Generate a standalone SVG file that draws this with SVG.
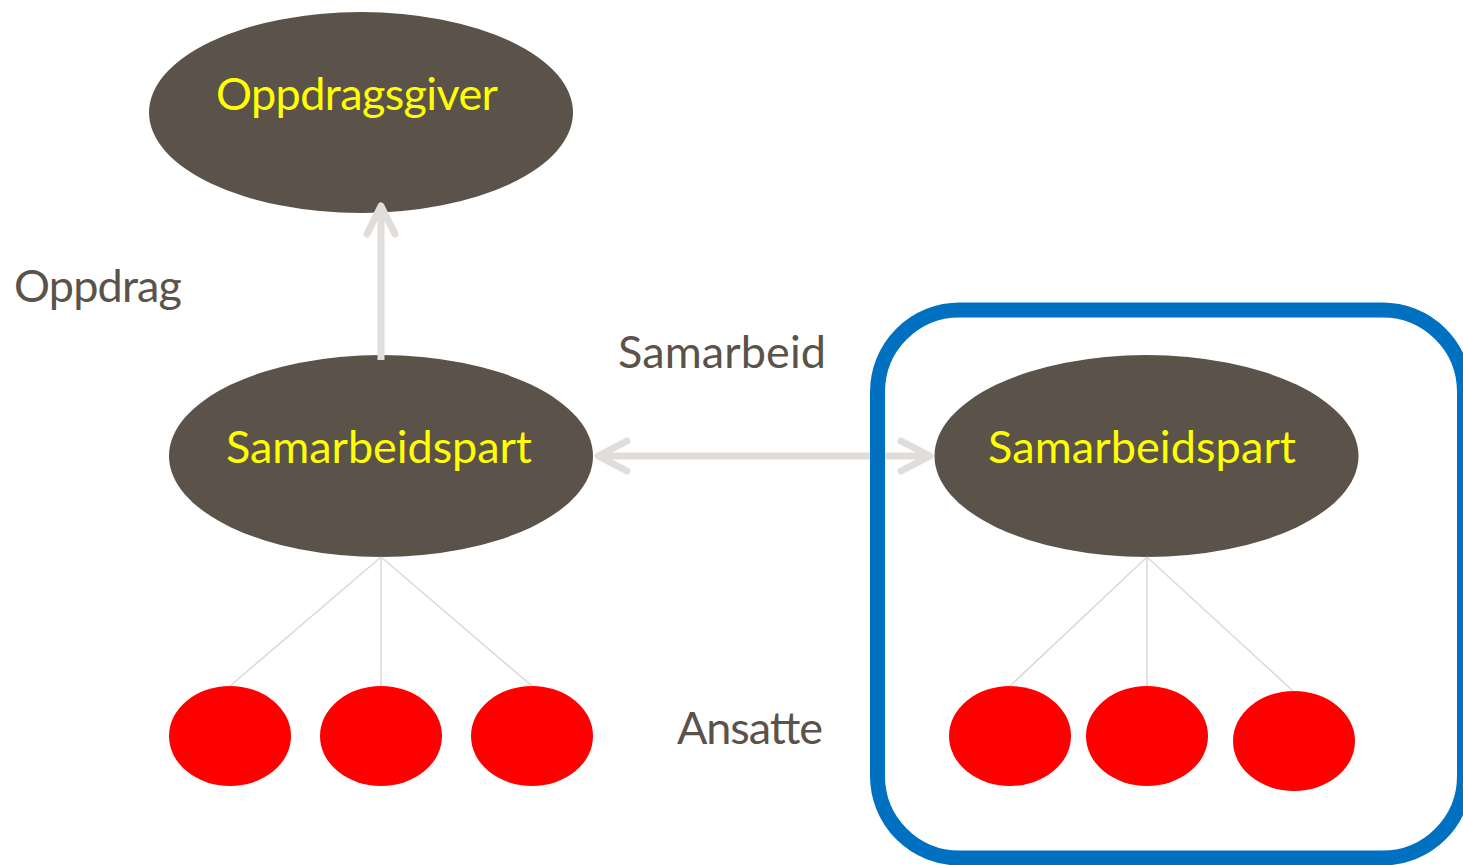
<svg xmlns="http://www.w3.org/2000/svg" width="1463" height="865" viewBox="0 0 1463 865">
<style>
.node{fill:#5B5249}
.emp{fill:#FF0000}
.lbl{font-family:Lato,"Open Sans","Liberation Sans",sans-serif;font-size:45px;fill:#FFFF00;text-anchor:middle}
.cap{font-family:Lato,"Open Sans","Liberation Sans",sans-serif;font-size:45px;fill:#5B5249}
.arrow{fill:none;stroke:#E0DDDA;stroke-width:7}
.chev{fill:none;stroke:#E0DDDA;stroke-width:7;stroke-linecap:round;stroke-linejoin:round}
.tie{stroke:#D9D9D9;stroke-width:1.5}
</style>
<rect width="1463" height="865" fill="#FFFFFF"/>
<g id="oppdragsgiver">
  <ellipse class="node" cx="361" cy="112.5" rx="212" ry="100.5"/>
  <text class="lbl" x="357" y="110" textLength="282">Oppdragsgiver</text>
</g>
<g id="samarbeidspart-left">
  <ellipse class="node" cx="381" cy="456" rx="212" ry="101"/>
  <text class="lbl" x="379" y="463" textLength="306">Samarbeidspart</text>
</g>
<g id="samarbeidspart-right">
  <ellipse class="node" cx="1146.5" cy="456" rx="212" ry="101"/>
  <text class="lbl" x="1142" y="463" textLength="308">Samarbeidspart</text>
</g>
<g id="ansatt-l1"><ellipse class="emp" cx="230" cy="736" rx="61" ry="50"/></g>
<g id="ansatt-l2"><ellipse class="emp" cx="381" cy="736" rx="61" ry="50"/></g>
<g id="ansatt-l3"><ellipse class="emp" cx="532" cy="736" rx="61" ry="50"/></g>
<g id="ansatt-r1"><ellipse class="emp" cx="1010" cy="736" rx="61" ry="50"/></g>
<g id="ansatt-r2"><ellipse class="emp" cx="1147" cy="736" rx="61" ry="50"/></g>
<g id="ansatt-r3"><ellipse class="emp" cx="1294" cy="741" rx="61" ry="50"/></g>
<g id="connectors">
  <line class="arrow" x1="381" y1="360" x2="381" y2="210"/>
  <path class="chev" d="M367,234 L381,206 L395,234"/>
  <line class="arrow" x1="600" y1="456" x2="928" y2="456"/>
  <path class="chev" d="M627,441 L598,456 L627,471"/>
  <path class="chev" d="M901,441 L930,456 L901,471"/>
  <line class="tie" x1="381" y1="557" x2="230" y2="686"/>
  <line class="tie" x1="381" y1="557" x2="381" y2="686"/>
  <line class="tie" x1="381" y1="557" x2="532" y2="686"/>
  <line class="tie" x1="1147" y1="557" x2="1010" y2="686"/>
  <line class="tie" x1="1147" y1="557" x2="1147" y2="686"/>
  <line class="tie" x1="1147" y1="557" x2="1293" y2="691"/>
</g>
<g id="group-box">
  <rect x="877.5" y="310" width="587" height="548" rx="82" ry="82" fill="none" stroke="#0070C0" stroke-width="15"/>
</g>
<g id="labels">
  <text class="cap" x="14" y="302" textLength="168">Oppdrag</text>
  <text class="cap" x="618" y="368" textLength="208">Samarbeid</text>
  <text class="cap" x="677" y="744" textLength="146">Ansatte</text>
</g>
</svg>
